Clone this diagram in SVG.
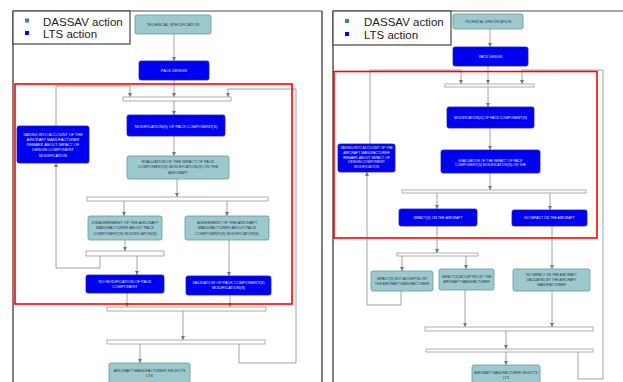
<svg xmlns="http://www.w3.org/2000/svg" width="623" height="382" viewBox="0 0 623 382">
  <defs>
    <style>
      .frame { fill: none; stroke: #555; stroke-width: 1.5; }
      .frametop { fill: none; stroke: #888; stroke-width: 1.6; }
      .legend { fill: #fff; stroke: #444; stroke-width: 1.2; }
      .legtxt { font-family: "Liberation Sans", Arial, sans-serif; font-size: 11.5px; fill: #222; }
      .teal { fill: #9dc8cc; stroke: #5e9aa0; stroke-width: 0.8; }
      .blue { fill: #0000f0; stroke: #2020b0; stroke-width: 0.8; }
      .bar { fill: #fff; stroke: #999; stroke-width: 0.8; }
      .zone { fill: none; stroke: #ff0000; stroke-width: 1.6; }
      .conn { fill: none; stroke: #8a8a8a; stroke-width: 0.8; }
      .tl { font-family: "Liberation Sans", Arial, sans-serif; font-size: 3.9px; text-anchor: middle; }
      .tr { font-family: "Liberation Sans", Arial, sans-serif; font-size: 3.45px; text-anchor: middle; }
      .dk { fill: #2a3a55; }
      .lt { fill: #e6e6ff; }
    </style>
    <marker id="arr" viewBox="0 0 6 6" refX="6" refY="3" markerWidth="4" markerHeight="4" markerUnits="userSpaceOnUse" orient="auto">
      <path d="M0,0 L6,3 L0,6 z" fill="#777"/>
    </marker>
  </defs>

  <rect width="623" height="382" fill="#fff"/>

  <!-- left sheet frame -->
  <g id="left-frame">
    <line class="frametop" x1="13" y1="11" x2="322" y2="11"/>
    <line class="frame" x1="13" y1="11" x2="13" y2="382"/>
    <line class="frame" x1="322" y1="11" x2="322" y2="382" stroke="#333"/>
  </g>
  <g id="left-legend">
    <rect class="legend" x="13" y="11" width="117" height="33"/>
    <rect x="25" y="18.5" width="4" height="4" fill="#2e8a98"/>
    <rect x="25" y="31" width="4" height="4" fill="#0000ff"/>
    <text class="legtxt" x="43" y="25.5">DASSAV action</text>
    <text class="legtxt" x="43" y="38">LTS action</text>
  </g>

  <!-- left connectors -->
  <g id="left-connectors">
    <path class="conn" d="M174,34 V61" marker-end="url(#arr)"/>
    <path class="conn" d="M174,80 V97" marker-end="url(#arr)"/>
    <path class="conn" d="M56,126 V86 H130 V97" marker-end="url(#arr)"/>
    <path class="conn" d="M239,344 V363 H296 V89 H228 V97" marker-end="url(#arr)"/>
    <path class="conn" d="M174,101 V115" marker-end="url(#arr)"/>
    <path class="conn" d="M174,136 V156" marker-end="url(#arr)"/>
    <path class="conn" d="M177,179 V197" marker-end="url(#arr)"/>
    <path class="conn" d="M124,201 V216" marker-end="url(#arr)"/>
    <path class="conn" d="M227,201 V216" marker-end="url(#arr)"/>
    <path class="conn" d="M125,240 V251" marker-end="url(#arr)"/>
    <path class="conn" d="M100,256 V268 H56 V163" marker-end="url(#arr)"/>
    <path class="conn" d="M137,256 V275" marker-end="url(#arr)"/>
    <path class="conn" d="M229,240 V276" marker-end="url(#arr)"/>
    <path class="conn" d="M127,293 V307" marker-end="url(#arr)"/>
    <path class="conn" d="M230,295 V307" marker-end="url(#arr)"/>
    <path class="conn" d="M183,311 V340" marker-end="url(#arr)"/>
    <path class="conn" d="M140,344 V363" marker-end="url(#arr)"/>
  </g>

  <!-- left nodes -->
  <g id="l-tech"><rect class="teal" x="135" y="15" width="76" height="19" rx="2"/>
    <text class="tl dk" x="173" y="26">TECHNICAL SPECIFICATION</text></g>
  <g id="l-pack"><rect class="blue" x="139" y="61" width="70" height="19" rx="2"/>
    <text class="tl lt" x="174" y="72">PACK DESIGN</text></g>
  <g id="l-bar1"><rect class="bar" x="123" y="97" width="108" height="4"/></g>
  <g id="l-mod"><rect class="blue" x="127" y="115" width="98" height="21" rx="2"/>
    <text class="tl lt" x="176" y="127.5">MODIFICATION(S) OF PACK COMPONENT(S)</text></g>
  <g id="l-take"><rect class="blue" x="17" y="126" width="72" height="37" rx="2"/>
    <text class="tl lt" x="53" y="135.5">TAKING INTO ACCOUNT OF THE</text>
    <text class="tl lt" x="53" y="140.8">AIRCRAFT MANUFACTURER</text>
    <text class="tl lt" x="53" y="146.1">REMARK ABOUT IMPACT OF</text>
    <text class="tl lt" x="53" y="151.4">DESIGN COMPONENT</text>
    <text class="tl lt" x="53" y="156.7">MODIFICATION</text></g>
  <g id="l-eval"><rect class="teal" x="127" y="156" width="102" height="23" rx="2"/>
    <text class="tl dk" x="178" y="163.1">EVALUATION OF THE IMPACT OF PACK</text>
    <text class="tl dk" x="178" y="168.4">COMPONENT(S) MODIFICATION(S) ON THE</text>
    <text class="tl dk" x="178" y="173.7">AIRCRAFT</text></g>
  <g id="l-bar2"><rect class="bar" x="87" y="197" width="181" height="4"/></g>
  <g id="l-dis"><rect class="teal" x="88" y="216" width="74" height="24" rx="2"/>
    <text class="tl dk" x="125" y="224.1">DISAGREEMENT OF THE AIRCRAFT</text>
    <text class="tl dk" x="125" y="229.4">MANUFACTURER ABOUT PACK</text>
    <text class="tl dk" x="125" y="234.7">COMPONENT(S) MODIFICATON(S)</text></g>
  <g id="l-agr"><rect class="teal" x="185" y="216" width="84" height="24" rx="2"/>
    <text class="tl dk" x="227" y="224.1">AGREEMENT OF THE AIRCRAFT</text>
    <text class="tl dk" x="227" y="229.4">MANUFACTURER ABOUT PACK</text>
    <text class="tl dk" x="227" y="234.7">COMPONENT(S) MODIFICATON(S)</text></g>
  <g id="l-bar3"><rect class="bar" x="86" y="251" width="78" height="5"/></g>
  <g id="l-nomod"><rect class="blue" x="86" y="275" width="78" height="18" rx="2"/>
    <text class="tl lt" x="125" y="283.1">NO MODIFICATION OF PACK</text>
    <text class="tl lt" x="125" y="288.1">COMPONENT</text></g>
  <g id="l-val"><rect class="blue" x="186" y="276" width="85" height="19" rx="2"/>
    <text class="tl lt" x="228.5" y="284.1">VALIDATION OF PACK COMPONENT(S)</text>
    <text class="tl lt" x="228.5" y="289.1">MODIFICATION(S)</text></g>
  <g id="l-bar4"><rect class="bar" x="107" y="307" width="159" height="4"/></g>
  <g id="l-bar5"><rect class="bar" x="107" y="340" width="158" height="4"/></g>
  <g id="l-sel"><rect class="teal" x="109" y="363" width="81" height="26" rx="2"/>
    <text class="tl dk" x="149.5" y="372.1">AIRCRAFT MANUFACTURER SELECTS</text>
    <text class="tl dk" x="149.5" y="377.4">LTS</text></g>

  <rect id="l-zone" class="zone" x="15" y="84" width="277" height="220"/>

  <!-- right sheet frame -->
  <g id="right-frame">
    <line class="frametop" x1="333" y1="11" x2="623" y2="11"/>
    <line class="frame" x1="333" y1="11" x2="333" y2="382" stroke="#444"/>
  </g>
  <g id="right-legend">
    <rect class="legend" x="333" y="11" width="118" height="34"/>
    <rect x="345" y="19" width="4" height="4" fill="#2e8a98"/>
    <rect x="345" y="32" width="4" height="4" fill="#0000ff"/>
    <text class="legtxt" x="364" y="25.5">DASSAV action</text>
    <text class="legtxt" x="364" y="39">LTS action</text>
  </g>

  <!-- right connectors -->
  <g id="right-connectors">
    <path class="conn" d="M490,29 V47" marker-end="url(#arr)"/>
    <path class="conn" d="M488,66 V84" marker-end="url(#arr)"/>
    <path class="conn" d="M370,144 V70 H461 V84" marker-end="url(#arr)"/>
    <path class="conn" d="M578,352 V379 H603 V70 H522 V84" marker-end="url(#arr)"/>
    <path class="conn" d="M488,87 V107" marker-end="url(#arr)"/>
    <path class="conn" d="M490,128 V150" marker-end="url(#arr)"/>
    <path class="conn" d="M490,173 V190" marker-end="url(#arr)"/>
    <path class="conn" d="M437,193 V209" marker-end="url(#arr)"/>
    <path class="conn" d="M550,193 V210" marker-end="url(#arr)"/>
    <path class="conn" d="M437,226 V253" marker-end="url(#arr)"/>
    <path class="conn" d="M402,256 V271" marker-end="url(#arr)"/>
    <path class="conn" d="M466,256 V269" marker-end="url(#arr)"/>
    <path class="conn" d="M401,291 V305 H367 V172" marker-end="url(#arr)"/>
    <path class="conn" d="M552,226 V269" marker-end="url(#arr)"/>
    <path class="conn" d="M465,290 V327" marker-end="url(#arr)"/>
    <path class="conn" d="M552,291 V327" marker-end="url(#arr)"/>
    <path class="conn" d="M506,331 V349" marker-end="url(#arr)"/>
    <path class="conn" d="M506,352 V365" marker-end="url(#arr)"/>
  </g>

  <!-- right nodes -->
  <g id="r-tech"><rect class="teal" x="453" y="14" width="70" height="15" rx="2"/>
    <text class="tr dk" x="488" y="22.7">TECHNICAL SPECIFICATION</text></g>
  <g id="r-pack"><rect class="blue" x="453" y="47" width="75" height="19" rx="2"/>
    <text class="tr lt" x="490.5" y="58.2">PACK DESIGN</text></g>
  <g id="r-bar1"><rect class="bar" x="445" y="84" width="89" height="3"/></g>
  <g id="r-mod"><rect class="blue" x="447" y="107" width="87" height="21" rx="2"/>
    <text class="tr lt" x="490.5" y="118.7">MODIFICATION(S) OF PACK COMPONENT(S)</text></g>
  <g id="r-take"><rect class="blue" x="338" y="144" width="57" height="28" rx="2"/>
    <text class="tr lt" x="366.5" y="148.9">TAKING INTO ACCOUNT OF THE</text>
    <text class="tr lt" x="366.5" y="153.7">AIRCRAFT MANUFACTURER</text>
    <text class="tr lt" x="366.5" y="158.5">REMARK ABOUT IMPACT OF</text>
    <text class="tr lt" x="366.5" y="163.3">DESIGN COMPONENT</text>
    <text class="tr lt" x="366.5" y="168.1">MODIFICATION</text></g>
  <g id="r-eval"><rect class="blue" x="441" y="150" width="99" height="23" rx="2"/>
    <text class="tr lt" x="490.5" y="161.6">EVALUATION OF THE IMPACT OF PACK</text>
    <text class="tr lt" x="490.5" y="166.1">COMPONENT(S) MODIFICATION(S) ON THE</text></g>
  <g id="r-bar2"><rect class="bar" x="402" y="190" width="184" height="3"/></g>
  <g id="r-imp"><rect class="blue" x="399" y="209" width="78" height="17" rx="2"/>
    <text class="tr lt" x="438" y="218.8">IMPACT(S) ON THE AIRCRAFT</text></g>
  <g id="r-noimp"><rect class="blue" x="512" y="210" width="75" height="16" rx="2"/>
    <text class="tr lt" x="549.5" y="219.2">NO IMPACT ON THE AIRCRAFT</text></g>
  <g id="r-bar3"><rect class="bar" x="397" y="253" width="81" height="3"/></g>
  <g id="r-notacc"><rect class="teal" x="371" y="271" width="62" height="20" rx="2"/>
    <text class="tr dk" x="402" y="280.1">IMPACT(S) NOT ACCEPTED BY</text>
    <text class="tr dk" x="402" y="284.6">THE AIRCRAFT MANUFACTURER</text></g>
  <g id="r-acc"><rect class="teal" x="439" y="269" width="55" height="21" rx="2"/>
    <text class="tr dk" x="466.5" y="277.9">IMPACT(S) ACCEPTED BY THE</text>
    <text class="tr dk" x="466.5" y="282.7">AIRCRAFT MANUFACTURER</text></g>
  <g id="r-nival"><rect class="teal" x="513" y="269" width="77" height="22" rx="2"/>
    <text class="tr dk" x="551.5" y="276.2">NO IMPACT ON THE AIRCRAFT</text>
    <text class="tr dk" x="551.5" y="280.9">VALIDATED BY THE AIRCRAFT</text>
    <text class="tr dk" x="551.5" y="285.6">MANUFACTURER</text></g>
  <g id="r-bar4"><rect class="bar" x="425" y="327" width="168" height="4"/></g>
  <g id="r-bar5"><rect class="bar" x="426" y="349" width="167" height="3"/></g>
  <g id="r-sel"><rect class="teal" x="472" y="365" width="68" height="24" rx="2"/>
    <text class="tr dk" x="506" y="373.9">AIRCRAFT MANUFACTURER SELECTS</text>
    <text class="tr dk" x="506" y="378.6">LTS</text></g>

  <rect id="r-zone" class="zone" x="334" y="71.5" width="263" height="166.5"/>
</svg>
